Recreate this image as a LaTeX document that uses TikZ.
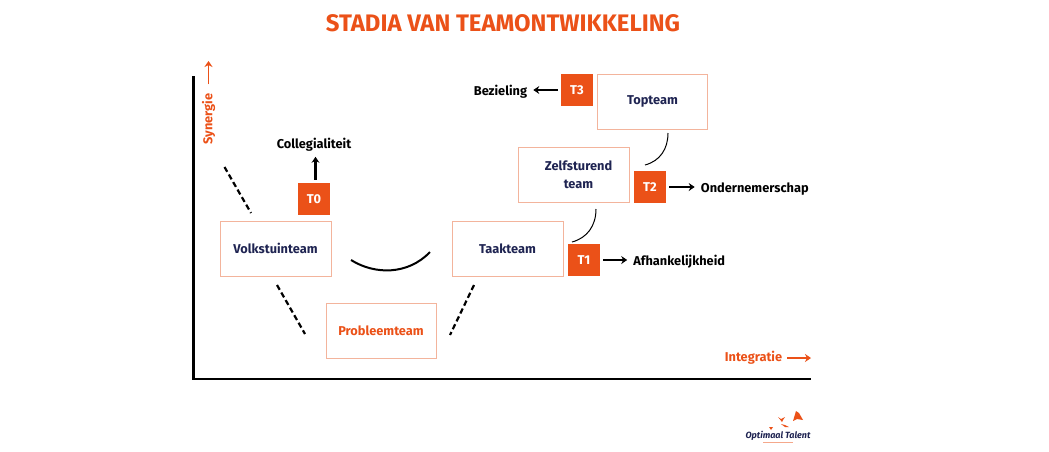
\documentclass[tikz,border=0pt]{standalone}
\usepackage{fontspec}
\setmainfont{Fira Sans}
\usetikzlibrary{positioning}
\usetikzlibrary{arrows.meta}
\definecolor{oranje}{HTML}{EB5118}
\definecolor{rand}{HTML}{F3B49C}
\definecolor{navy}{HTML}{1F2452}

\begin{document}
\begin{tikzpicture}[x=1pt, y=-1pt,
    teambox/.style={draw=rand, line width=1pt, fill=white, minimum width=111pt, minimum height=55pt, inner sep=0pt, align=center, font=\fontsize{12.8}{18}\selectfont\bfseries, text=navy},
    tag/.style={fill=oranje, minimum size=32pt, inner sep=0pt, text=white, font=\fontsize{12.8}{15}\selectfont\bfseries},
    outcome/.style={inner sep=0pt, text=black, text height=13pt, text depth=2pt, font=\fontsize{12.8}{15}\selectfont\bfseries},
    axislabel/.style={inner sep=0pt, text=oranje, font=\fontsize{12.8}{15}\selectfont\bfseries},
    pijl/.style={-{Stealth[length=6pt,width=8pt]}, line width=2.2pt},
    oranjepijl/.style={-{Stealth[length=6pt,width=8pt]}, line width=1.8pt, oranje},
    streep/.style={line width=2.2pt, dash pattern=on 5.5pt off 3.2pt},
    boog/.style={line width=1pt}]
    \useasboundingbox (0,0) rectangle (1049,451);

    \node (title) at (503,23) [inner sep=0pt, text=oranje, font=\fontsize{23.9}{28}\selectfont\bfseries] {STADIA VAN TEAMONTWIKKELING};

    % assen
    \coordinate (origin) at (193.5,379);
    \coordinate (ytop) at (193.5,77);
    \coordinate (xend) at (810,379);
    \draw[line width=2.4pt, line cap=rect] (ytop) -- (origin) -- (xend);

    \node (synergie) at (208.5,119) [axislabel, rotate=90] {Synergie};
    \coordinate (syn1) at (208.5,61);
    \draw[oranjepijl, shorten <=9pt] (synergie.east) -- (syn1);
    \node (integratie) at (753.5,358) [axislabel] {Integratie};
    \coordinate (int1) at (811,358);
    \draw[oranjepijl, shorten <=5pt] (integratie.east |- int1) -- (int1);

    % teams
    \node (volkstuin) at (275.5,248.5) [teambox] {Volkstuinteam};
    \node (probleem) at (381,330.5) [teambox, minimum width=110pt, text=oranje] {Probleemteam};
    \node (taak) at (507.5,248.5) [teambox] {Taakteam};
    \node (zelf) at (573.5,175) [teambox] {\hspace*{10pt}Zelfsturend\\\hspace*{10pt}team};
    \node (top) at (652.5,101.5) [teambox, minimum width=110pt] {Topteam};

    \node (T0) at (314,199) [tag] {T0};
    \node (T1) at (584,260) [tag] {T1};
    \node (T2) at (650,187) [tag] {T2};
    \node (T3) at (577,90) [tag] {T3};

    \node (collegialiteit) [outcome, above=32pt of T0] {Collegialiteit};
    \node (afhankelijk) [outcome, right=33pt of T1] {Afhankelijkheid};
    \node (ondernemer) [outcome, right=34.5pt of T2] {Ondernemerschap};
    \node (bezieling) [outcome, left=33.5pt of T3] {Bezieling};

    % pijlen
    \draw[pijl, shorten <=3pt, shorten >=6pt] ([xshift=1.5pt]T0.north) -- ([xshift=1.5pt]collegialiteit.south);
    \draw[pijl, shorten <=3pt, shorten >=6pt] (T1.east) -- (afhankelijk.west);
    \draw[pijl, shorten <=3pt, shorten >=6pt] (T2.east) -- (ondernemer.west);
    \draw[pijl, shorten <=3pt, shorten >=6pt] (T3.west) -- (bezieling.east);

    % stippellijnen
    \coordinate (d1a) at (224.5,167);
    \coordinate (d1b) at (251,213);
    \coordinate (d2a) at (277,285);
    \coordinate (d2b) at (305,334);
    \coordinate (d3a) at (474,285);
    \coordinate (d3b) at (450,335);
    \draw[streep] (d1a) -- (d1b);
    \draw[streep] (d2a) -- (d2b);
    \draw[streep] (d3a) -- (d3b);

    % bogen
    \coordinate (b1a) at (351,260);
    \coordinate (b1b) at (430,252);
    \draw[line width=2pt] (b1a) .. controls (375,275) and (408,275) .. (b1b);
    \coordinate (b2a) at (572,242);
    \coordinate (b2b) at (596,209);
    \draw[boog] (b2a) .. controls (587,238) and (596,226) .. (b2b);
    \coordinate (b3a) at (645,165);
    \coordinate (b3b) at (668,133);
    \draw[boog] (b3a) .. controls (660,161) and (668,149) .. (b3b);

    % logo
    \node (logo) at (778,436) [inner sep=0pt, text=navy, font=\fontsize{9}{10}\selectfont\itshape\bfseries] {Optimaal Talent};
    \fill[oranje] (793,421) -- (796,411) -- (799,413) -- (803,420) -- (797,419) -- cycle;
    \fill[oranje] (778,417) -- (781,419) -- (785,417) -- (783,420) -- (782,422) -- cycle;
    \fill[oranje] (781,424) -- (785,425) -- (789,427) -- (785,427) -- cycle;
    \fill[oranje] (769,427) -- (773,427) -- (771,430) -- cycle;
    \draw[oranje, opacity=0.5, line width=0.8pt] (763,442) -- (793,442);
\end{tikzpicture}
\end{document}
